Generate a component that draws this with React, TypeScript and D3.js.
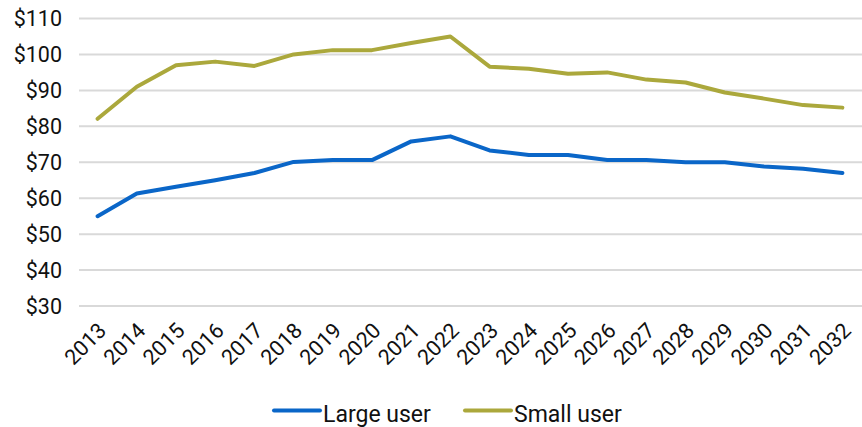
import React from "react";
import * as d3 from "d3";

const years = ["2013", "2014", "2015", "2016", "2017", "2018", "2019", "2020", "2021", "2022",
  "2023", "2024", "2025", "2026", "2027", "2028", "2029", "2030", "2031", "2032"];
const largeUser = [55, 61.3, 63.2, 65, 67, 70.1, 70.6, 70.6, 75.8, 77.2,
  73.3, 72, 72, 70.6, 70.6, 70, 70, 68.8, 68.2, 67];
const smallUser = [82.1, 91, 97, 98, 96.8, 100, 101.2, 101.2, 103.2, 105,
  96.6, 96, 94.6, 95, 93, 92.2, 89.4, 87.7, 85.9, 85.2];
const yTicks = [30, 40, 50, 60, 70, 80, 90, 100, 110];

const series = [
  { name: "Large user", values: largeUser, color: "#0A66C8" },
  { name: "Small user", values: smallUser, color: "#ABA83C" },
];

const width = 862, height = 427;
const font = "Roboto, 'Noto Sans', sans-serif";

const App = () => {
  const ref = React.useRef<SVGSVGElement>(null);

  React.useEffect(() => {
    const svg = d3.select(ref.current);
    svg.selectAll("*").remove();

    const x = d3.scalePoint(years, [78, 862]).padding(0.5);
    const y = d3.scaleLinear([30, 110], [306, 18.5]);

    // gridlines
    svg.append("g")
      .selectAll("line")
      .data(yTicks)
      .join("line")
        .attr("x1", 79).attr("x2", 862)
        .attr("y1", d => y(d)).attr("y2", d => y(d))
        .attr("stroke", "#d9d9d9").attr("stroke-width", 2);

    // y labels
    svg.append("g")
      .selectAll("text")
      .data(yTicks)
      .join("text")
        .attr("x", 62).attr("y", d => y(d))
        .attr("dy", "0.35em")
        .attr("text-anchor", "end")
        .attr("font-family", font).attr("font-size", 21.5).attr("fill", "#111")
        .text(d => "$" + d);

    // x labels
    svg.append("g")
      .selectAll("text")
      .data(years)
      .join("text")
        .attr("transform", d => `translate(${x(d)! + 10},${332}) rotate(-45)`)
        .attr("text-anchor", "end")
        .attr("font-family", font).attr("font-size", 21.5).attr("fill", "#111")
        .text(d => d);

    const line = d3.line<number>()
      .x((_, i) => x(years[i])!)
      .y(d => y(d));

    svg.append("g")
      .selectAll("path")
      .data(series)
      .join("path")
        .attr("d", s => line(s.values))
        .attr("fill", "none")
        .attr("stroke", s => s.color)
        .attr("stroke-width", 4)
        .attr("stroke-linejoin", "round")
        .attr("stroke-linecap", "round");

    // legend
    const legendX = [274, 465];
    const legend = svg.append("g")
      .selectAll("g")
      .data(series)
      .join("g")
        .attr("transform", (_, i) => `translate(${legendX[i]},410.5)`);
    legend.append("line")
      .attr("x1", 0).attr("x2", 46)
      .attr("stroke", s => s.color).attr("stroke-width", 4)
      .attr("stroke-linecap", "round");
    legend.append("text")
      .attr("x", 49).attr("y", 11.5)
      .attr("font-family", font).attr("font-size", 23).attr("fill", "#111")
      .text(s => s.name);
  }, []);

  return <svg ref={ref} width={width} height={height}
    style={{ position: "absolute", left: 0, top: 0, background: "#fff" }} />;
};

export default App;
